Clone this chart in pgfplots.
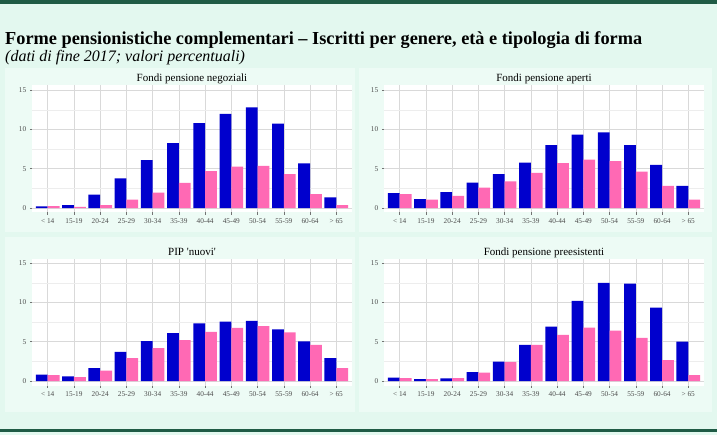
\documentclass[border=0pt]{standalone}
\usepackage{pgfplots}
\pgfplotsset{compat=1.18}
\usepackage{pgfplotstable}
\usepackage{fontspec}
\setmainfont{Liberation Serif}
\definecolor{bgout}{HTML}{E3F8EF}
\definecolor{bgpanel}{HTML}{EDFBF5}
\definecolor{darkgreen}{HTML}{1F5B45}
\definecolor{mblue}{HTML}{0000CD}
\definecolor{mpink}{HTML}{FF69B4}
\definecolor{ticktext}{HTML}{4D4D4D}

\pgfplotstableread{
x b p
0 0.21 0.25
1 0.38 0.13
2 1.69 0.38
3 3.77 1.06
4 6.10 1.95
5 8.26 3.18
6 10.80 4.70
7 11.95 5.25
8 12.80 5.34
9 10.72 4.32
10 5.68 1.78
11 1.36 0.38
}\negoziali

\pgfplotstableread{
x b p
0 1.90 1.78
1 1.14 1.06
2 2.03 1.53
3 3.22 2.58
4 4.32 3.39
5 5.76 4.45
6 8.00 5.72
7 9.32 6.14
8 9.62 5.97
9 8.00 4.62
10 5.47 2.80
11 2.80 1.06
}\aperti

\pgfplotstableread{
x b p
0 0.80 0.76
1 0.59 0.51
2 1.65 1.31
3 3.69 2.92
4 5.08 4.19
5 6.10 5.21
6 7.33 6.23
7 7.54 6.74
8 7.63 6.99
9 6.57 6.19
10 5.04 4.58
11 2.92 1.65
}\pip

\pgfplotstableread{
x b p
0 0.42 0.38
1 0.25 0.25
2 0.34 0.38
3 1.14 1.06
4 2.46 2.42
5 4.58 4.58
6 6.91 5.85
7 10.17 6.78
8 12.46 6.40
9 12.37 5.47
10 9.32 2.67
11 5.00 0.76
}\preesistenti

\pgfplotsset{panel/.style={
  width=320pt,height=127pt,scale only axis,
  xmin=-0.6,xmax=11.6,ymin=-0.57,ymax=15.57,
  axis background/.style={fill=white},
  axis line style={draw=none},
  xtick={0,...,11},
  xticklabels={{< 14},15-19,20-24,25-29,30-34,35-39,40-44,45-49,50-54,55-59,60-64,{> 65}},
  ytick={0,5,10,15}, minor ytick={2.5,7.5,12.5},
  grid=both,
  major grid style={draw=black!15, line width=0.5pt},
  minor grid style={draw=black!7, line width=0.3pt},
  tick style={draw=black!55, line width=0.5pt},
  tick align=outside, major tick length=2.2pt, minor tick length=0pt,
  xtick pos=bottom, ytick pos=left,
  /pgf/number format/assume math mode=true,
  ticklabel style={font=\fontsize{7.3}{8}\selectfont, text=ticktext},
  xticklabel style={yshift=-0.5pt},
  title style={font=\fontsize{11}{12}\selectfont, at={(0.5,1)}, anchor=base, inner sep=0pt, yshift=-2.5pt},
  ybar, bar width=0.45,
  clip=false,
}}

\begin{document}
\begin{tikzpicture}
\useasboundingbox (0pt,0pt) rectangle (717pt,-435pt);
\fill[bgout] (0pt,0pt) rectangle (717pt,-435pt);
\fill[darkgreen] (0pt,-0.5pt) rectangle (717pt,-4pt);
\fill[darkgreen] (0pt,-429pt) rectangle (717pt,-432pt);
\fill[bgpanel] (5pt,-68pt) rectangle (355pt,-232pt);
\fill[bgpanel] (359pt,-68pt) rectangle (712pt,-232pt);
\fill[bgpanel] (5pt,-237pt) rectangle (355pt,-412pt);
\fill[bgpanel] (359pt,-237pt) rectangle (712pt,-412pt);

\node[anchor=base west, inner sep=0pt, font=\fontsize{18.3}{20}\selectfont\bfseries] at (5pt,-45pt)
  {Forme pensionistiche complementari -- Iscritti per genere, età e tipologia di forma};
\node[anchor=base west, inner sep=0pt, font=\fontsize{16}{18}\selectfont\itshape] at (5pt,-62pt)
  {(dati di fine 2017; valori percentuali)};

\begin{axis}[panel, at={(32pt,-212.5pt)}, anchor=south west, title={Fondi pensione negoziali}]
\addplot[fill=mblue, draw=none, bar shift=-0.225] table[x=x,y=b] {\negoziali};
\addplot[fill=mpink, draw=none, bar shift=0.225] table[x=x,y=p] {\negoziali};
\end{axis}

\begin{axis}[panel, at={(384pt,-212.5pt)}, anchor=south west, title={Fondi pensione aperti}]
\addplot[fill=mblue, draw=none, bar shift=-0.225] table[x=x,y=b] {\aperti};
\addplot[fill=mpink, draw=none, bar shift=0.225] table[x=x,y=p] {\aperti};
\end{axis}

\begin{axis}[panel, at={(32pt,-385.5pt)}, anchor=south west, title={PIP \textquotesingle nuovi\textquotesingle}]
\addplot[fill=mblue, draw=none, bar shift=-0.225] table[x=x,y=b] {\pip};
\addplot[fill=mpink, draw=none, bar shift=0.225] table[x=x,y=p] {\pip};
\end{axis}

\begin{axis}[panel, at={(384pt,-385.5pt)}, anchor=south west, title={Fondi pensione preesistenti}]
\addplot[fill=mblue, draw=none, bar shift=-0.225] table[x=x,y=b] {\preesistenti};
\addplot[fill=mpink, draw=none, bar shift=0.225] table[x=x,y=p] {\preesistenti};
\end{axis}
\end{tikzpicture}
\end{document}
